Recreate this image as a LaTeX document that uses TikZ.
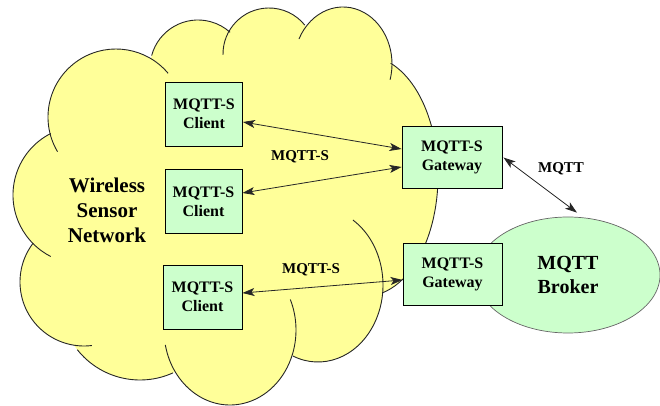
\documentclass[tikz,border=0pt]{standalone}
\usepackage{fontspec}
\setmainfont{Liberation Serif}
\usetikzlibrary{arrows.meta,shapes.geometric}
\definecolor{cloudyellow}{HTML}{FFFF99}
\definecolor{palegreen}{HTML}{CCFFCC}

\begin{document}
\begin{tikzpicture}[x=1pt,y=1pt,
  lobe/.style={draw=black!85, line width=0.9pt},
  box/.style={draw=black, line width=0.9pt, fill=palegreen, align=center,
    inner sep=0pt, font=\fontsize{16}{19}\selectfont\bfseries},
  client/.style={box, minimum width=77pt, minimum height=64pt},
  gateway/.style={box, minimum width=100pt, minimum height=62pt},
  link/.style={draw=black!85, line width=0.8pt,
    {Stealth[length=12pt,width=8pt,inset=3pt]}-{Stealth[length=12pt,width=8pt,inset=3pt]}},
  lbl/.style={font=\fontsize{15}{18}\selectfont\bfseries},
  biglbl/.style={align=center, font=\fontsize{21}{25}\selectfont\bfseries},
]
\useasboundingbox (0,0) rectangle (660,406);

% ---- cloud: filled body ----
\fill[cloudyellow] (116,289) -- (198,338) -- (269,352) -- (343,342) -- (366,230)
  -- (318,121) -- (230,76) -- (140,106) -- (84,124) -- (82,211) -- cycle;
\fill[cloudyellow]
  (82,211) circle[radius=69pt]
  (84,124) circle[radius=64pt]
  (140,106) circle[radius=80pt]
  (230,76) ellipse[x radius=66pt, y radius=75pt]
  (318,121) ellipse[x radius=65pt, y radius=77pt]
  (366,230) ellipse[x radius=72pt, y radius=120pt]
  (343,342) ellipse[x radius=49pt, y radius=57pt]
  (269,352) circle[radius=46pt]
  (198,338) circle[radius=48pt]
  (116,289) circle[radius=68pt];

% ---- cloud: puff outlines ----
\draw[lobe] (82,211) ++(117:69pt) arc[start angle=117, end angle=243, radius=69pt];
\draw[lobe] (84,124) ++(142.6:64pt) arc[start angle=142.6, end angle=277, radius=64pt];
\draw[lobe] (140,106) ++(-141.6:80pt) arc[start angle=-141.6, end angle=-65.7, radius=80pt];
\draw[lobe] (230,76) ++({66*cos(-168.5)},{75*sin(-168.5)})
  arc[start angle=-168.5, end angle=24, x radius=66pt, y radius=75pt];
\draw[lobe] (318,121) ++({65*cos(57.5)},{77*sin(57.5)})
  arc[start angle=57.5, end angle=-112.6, x radius=65pt, y radius=77pt];
\draw[lobe] (366,230) ++({72*cos(70)},{120*sin(70)})
  arc[start angle=70, end angle=-77, x radius=72pt, y radius=120pt];
\draw[lobe] (343,342) ++({49*cos(154)},{57*sin(154)})
  arc[start angle=154, end angle=-16, x radius=49pt, y radius=57pt];
\draw[lobe] (269,352) ++(181:46pt) arc[start angle=181, end angle=39, radius=46pt];
\draw[lobe] (198,338) ++(165:48pt) arc[start angle=165, end angle=48, radius=48pt];
\draw[lobe] (116,289) ++(-149.3:68pt) arc[start angle=-149.3, end angle=-320, radius=68pt];

\node[biglbl] (wsn) at (107,196) {Wireless\\Sensor\\Network};

% ---- broker ----
\node[ellipse, draw=black!60, line width=0.7pt, fill=palegreen,
  minimum width=184pt, minimum height=116pt, inner sep=0pt,
  align=center, font=\fontsize{20}{24}\selectfont\bfseries] (broker) at (568,131)
  {MQTT\\Broker};

% ---- clients and gateways ----
\node[client] (c1) at (204,292) {MQTT-S\\Client};
\node[client] (c2) at (203.5,204.5) {MQTT-S\\Client};
\node[client, minimum width=79pt] (c3) at (202.5,109) {MQTT-S\\Client};
\node[gateway] (g1) at (452,248.5) {MQTT-S\\Gateway};
\node[gateway, minimum width=99pt] (g2) at (452.5,132) {MQTT-S\\Gateway};

% ---- links ----
\draw[link] ([yshift=-8pt]c1.east) -- ([yshift=8.5pt]g1.west);
\draw[link] ([yshift=8.5pt]c2.east) -- ([yshift=-9.5pt]g1.west);
\draw[link] ([yshift=4pt]c3.east) -- ([yshift=-6pt]g2.west);
\draw[link] ([xshift=1pt]g1.east) -- ([xshift=9pt,yshift=4pt]broker.north);

\node[lbl] (l1) at (300,249) {MQTT-S};
\node[lbl] (l2) at (311,136) {MQTT-S};
\node[lbl] (l3) at (561,237) {MQTT};
\end{tikzpicture}
\end{document}
